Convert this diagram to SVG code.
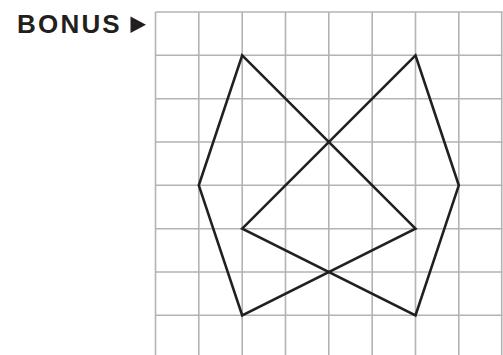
<svg xmlns="http://www.w3.org/2000/svg" width="503" height="355" viewBox="0 0 503 355">
<style>
.grid line{stroke:#b3b3b3;stroke-width:1.6}
.shape{fill:none;stroke:#231f20;stroke-width:2.6;stroke-linejoin:miter}
.title{font-family:"Liberation Sans",Arial,sans-serif;font-weight:bold;font-size:26px;fill:#231f20;letter-spacing:2.2px}
</style>
<rect width="503" height="355" fill="#fff"/>
<g id="title">
<text class="title" x="17" y="33">BONUS</text>
<polygon points="130.5,16.5 146,24.8 130.5,33" fill="#231f20"/>
</g>
<g id="grid" class="grid">
<line x1="155.5" y1="12" x2="155.5" y2="355"/>
<line x1="198.8" y1="12" x2="198.8" y2="355"/>
<line x1="242.2" y1="12" x2="242.2" y2="355"/>
<line x1="285.5" y1="12" x2="285.5" y2="355"/>
<line x1="328.8" y1="12" x2="328.8" y2="355"/>
<line x1="372.2" y1="12" x2="372.2" y2="355"/>
<line x1="415.5" y1="12" x2="415.5" y2="355"/>
<line x1="458.8" y1="12" x2="458.8" y2="355"/>
<line x1="501.7" y1="12" x2="501.7" y2="355"/>
<line x1="155.5" y1="12" x2="502.5" y2="12"/>
<line x1="155.5" y1="55.3" x2="502.5" y2="55.3"/>
<line x1="155.5" y1="98.7" x2="502.5" y2="98.7"/>
<line x1="155.5" y1="142" x2="502.5" y2="142"/>
<line x1="155.5" y1="185.3" x2="502.5" y2="185.3"/>
<line x1="155.5" y1="228.7" x2="502.5" y2="228.7"/>
<line x1="155.5" y1="272" x2="502.5" y2="272"/>
<line x1="155.5" y1="315.3" x2="502.5" y2="315.3"/>
</g>
<g id="connectors">
<polygon class="shape" points="242.2,55.3 198.8,185.3 242.2,315.3 415.5,228.7"/>
<polygon class="shape" points="415.5,55.3 458.8,185.3 415.5,315.3 242.2,228.7"/>
</g>
</svg>
